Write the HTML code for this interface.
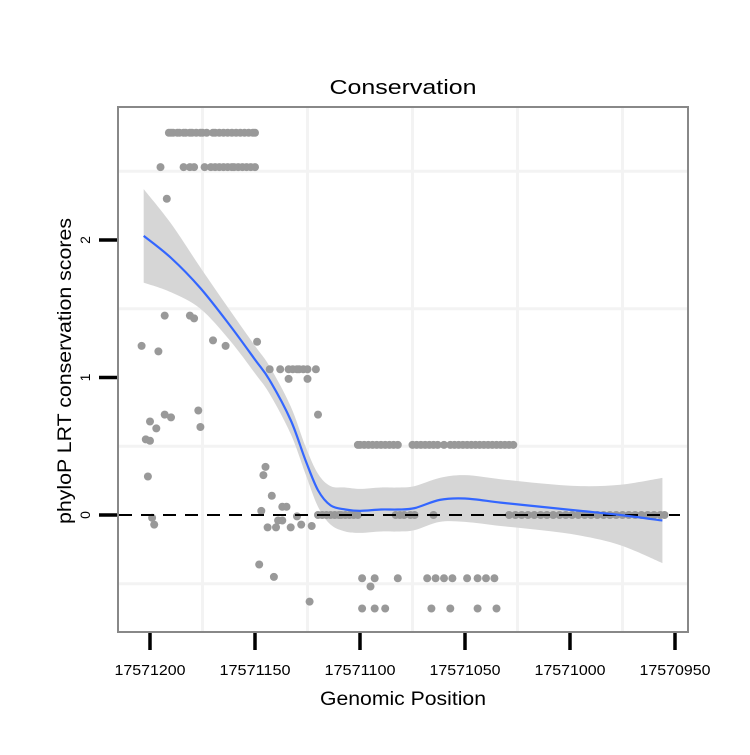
<!DOCTYPE html>
<html><head><meta charset="utf-8"><style>
body{margin:0;background:#fff}
svg text{font-family:"Liberation Sans",Arial,sans-serif}
</style></head><body>
<svg id="chart" width="750" height="750" xmlns="http://www.w3.org/2000/svg">
<rect width="750" height="750" fill="#fff"/>
<text x="403" y="94" text-anchor="middle" font-size="20" textLength="147" lengthAdjust="spacingAndGlyphs">Conservation</text>
<text x="403" y="705" text-anchor="middle" font-size="19" textLength="166" lengthAdjust="spacingAndGlyphs">Genomic Position</text>
<text transform="translate(71,371) rotate(-90)" text-anchor="middle" font-size="19" textLength="306" lengthAdjust="spacingAndGlyphs">phyloP LRT conservation scores</text>
<g id="grid"></g><g id="band"></g><g id="pts"></g><g id="fg"></g>
</svg>
<script>
const xTicks=[17571200,17571150,17571100,17571050,17571000,17570950];
const yTicks=[0,1,2];
const topRowD=[9,10,11,13,14,16,17,19,20,22,24,25,27,30,31,33,35,37,39,41,43,45,47,49,50];
const secondRowD=[5,16,19,21,26,29,31,33,35,37,39,40,42,44,46,48,50];
const midRowD=[57,62,66,68,70,71,73,75,79];
const zeroRowD=[80,82,84,86,88,90,91,93,95,97,99,117,119,121,124,126,135,171,174,177,180,183,186,189,192,195,198,201,204,207,210,213,216,219,222,225,228,231,234,237,240,243,245];
const halfRowD=[99,100,102,104,106,108,110,112,114,116,118,125,127,129,131,133,135,137,140,143,145,147,149,151,153,155,157,159,161,163,165,167,169,171,173];
const negRowD=[101,107,118,132,136,140,144,151,156,160,164];
const neg2RowD=[101,107,112,134,143,156,165];
const otherD=[8,7,19,21,-4,4,30,36,51,0,3,7,10,23,24,-2,0,-1,1,2,55,54,58,53,63,65,61,63,56,60,67,70,72,77,52,59,76,80,66,75,105];
const otherScore=[2.30,1.45,1.45,1.43,1.23,1.19,1.27,1.23,1.26,0.68,0.63,0.73,0.71,0.76,0.64,0.55,0.54,0.28,-0.02,-0.07,0.35,0.29,0.14,0.03,0.06,0.06,-0.04,-0.04,-0.09,-0.09,-0.09,-0.01,-0.07,-0.08,-0.36,-0.45,-0.63,0.73,0.99,0.99,-0.52];
const fitD=[-3,10,24,38,50,57,67,74,80,86,93,100,110,118,126,138,150,167,186,205,224,244];
const fitY=[2.03,1.87,1.65,1.38,1.13,0.98,0.69,0.40,0.18,0.07,0.04,0.03,0.04,0.04,0.05,0.11,0.12,0.09,0.06,0.03,0.0,-0.04];
const fitSE=[0.34,0.25,0.15,0.11,0.1,0.1,0.1,0.1,0.12,0.14,0.16,0.16,0.16,0.16,0.16,0.16,0.17,0.17,0.17,0.18,0.22,0.31];
const BASE=17571200;
const X=p=>150+(BASE-p)*2.1;
const Y=v=>515-v*137.5;
const NS="http://www.w3.org/2000/svg";
function mk(parent,tag,at){const e=document.createElementNS(NS,tag);for(const k in at)e.setAttribute(k,at[k]);document.getElementById(parent).appendChild(e);return e;}
function spline(P,start){let s=start?('M'+P[0][0]+','+P[0][1]):('L'+P[0][0]+','+P[0][1]);
for(let i=0;i<P.length-1;i++){const p0=P[Math.max(i-1,0)],p1=P[i],p2=P[i+1],p3=P[Math.min(i+2,P.length-1)];
const c1=[p1[0]+(p2[0]-p0[0])/6,p1[1]+(p2[1]-p0[1])/6],c2=[p2[0]-(p3[0]-p1[0])/6,p2[1]-(p3[1]-p1[1])/6];
s+=` C${c1[0]},${c1[1]} ${c2[0]},${c2[1]} ${p2[0]},${p2[1]}`;}return s;}
for(let i=0;i<xTicks.length-1;i++){const gx=X((xTicks[i]+xTicks[i+1])/2);const e=mk('grid','line',{x1:gx,x2:gx,y1:108,y2:631,stroke:'#f3f3f3','stroke-width':3});

}
[-0.5,0.5,1.5,2.5].forEach(v=>{const e=mk('grid','line',{x1:119,x2:687,y1:Y(v),y2:Y(v),stroke:'#f3f3f3','stroke-width':3});

});
const upP=fitD.map((d,i)=>[X(BASE-d),Y(fitY[i]+fitSE[i])]);
const loP=fitD.map((d,i)=>[X(BASE-d),Y(fitY[i]-fitSE[i])]).reverse();
const band=mk('band','path',{d:spline(upP,true)+' '+spline(loP,false)+'Z',fill:'#d6d6d6'});


function pt(d,v){const c=mk('pts','circle',{cx:X(BASE-d),cy:Y(v),r:4,fill:'#999'});

}
topRowD.forEach(d=>pt(d,2.78));
secondRowD.forEach(d=>pt(d,2.53));
midRowD.forEach(d=>pt(d,1.06));
zeroRowD.forEach(d=>pt(d,0));
halfRowD.forEach(d=>pt(d,0.51));
negRowD.forEach(d=>pt(d,-0.46));
neg2RowD.forEach(d=>pt(d,-0.68));
otherD.forEach((d,i)=>pt(d,otherScore[i]));
const zl=mk('fg','line',{x1:119,x2:680,y1:Y(0),y2:Y(0),stroke:'#000','stroke-width':2,'stroke-dasharray':'13,9'});


const fl=mk('fg','path',{d:spline(fitD.map((d,i)=>[X(BASE-d),Y(fitY[i])]),true),fill:'none',stroke:'#3366ff','stroke-width':2.2});


const pb=mk('fg','rect',{x:118,y:107,width:570,height:525,fill:'none',stroke:'#888','stroke-width':2});


xTicks.forEach(t=>{const l=mk('fg','line',{x1:X(t),x2:X(t),y1:633,y2:650,stroke:'#000','stroke-width':3.5});


const tx=mk('fg','text',{x:X(t),y:675,'text-anchor':'middle','font-size':15,textLength:71,lengthAdjust:'spacingAndGlyphs'});tx.textContent=t;

});
yTicks.forEach(t=>{const l=mk('fg','line',{x1:99,x2:117,y1:Y(t),y2:Y(t),stroke:'#000','stroke-width':3.5});


const tx=mk('fg','text',{transform:`translate(90,${Y(t)}) rotate(-90)`,'text-anchor':'middle','font-size':14});tx.textContent=t;

});
</script>
</body></html>
